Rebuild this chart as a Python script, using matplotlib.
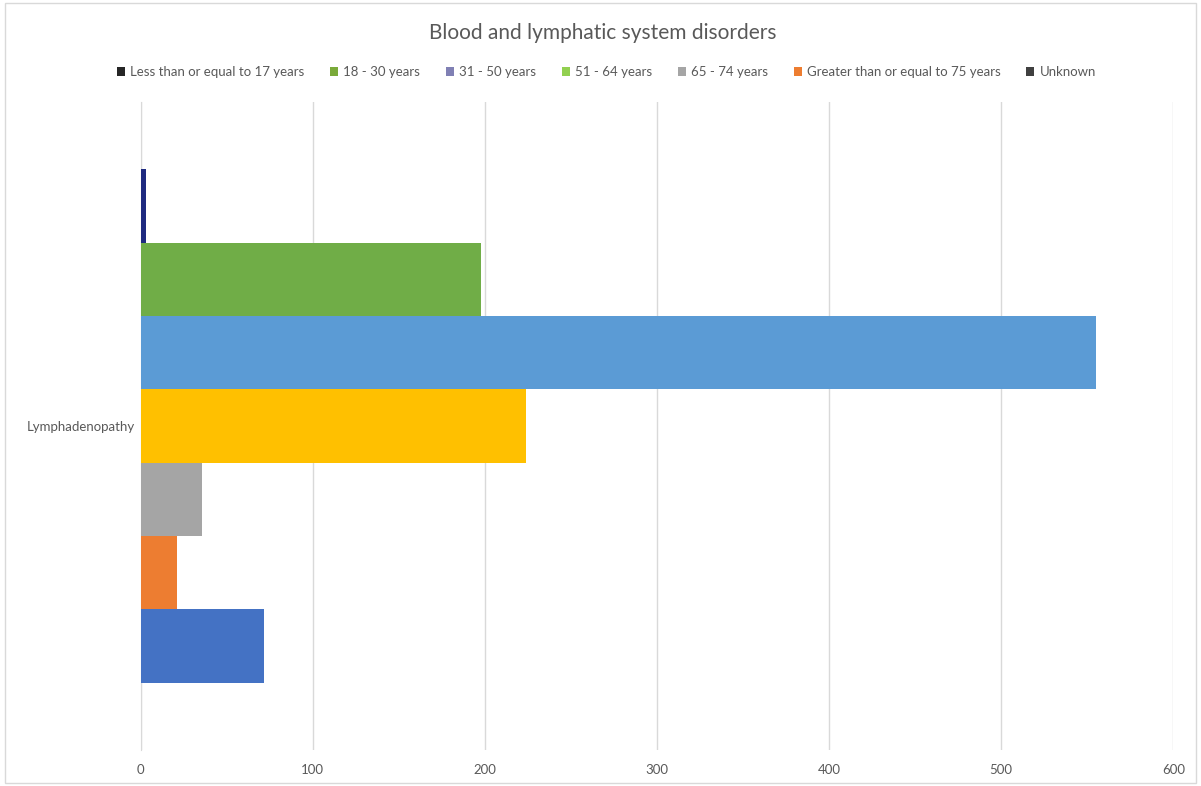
import matplotlib.pyplot as plt
from matplotlib.patches import Patch, Rectangle

# data
category = 'Lymphadenopathy'
age_groups = ['Less than or equal to 17 years', '18 - 30 years', '31 - 50 years',
              '51 - 64 years', '65 - 74 years', 'Greater than or equal to 75 years', 'Unknown']
counts = [3, 198, 555, 224, 36, 21, 72]
x_ticks = [0, 100, 200, 300, 400, 500, 600]

bar_colors = ['#1F2A80', '#70AD47', '#5B9BD5', '#FFC000', '#A5A5A5', '#ED7D31', '#4472C4']
legend_colors = ['#262626', '#7AAA3A', '#8080B4', '#92D050', '#A5A5A5', '#ED7D31', '#404040']

plt.rcParams['font.family'] = ['Lato', 'DejaVu Sans']

fig = plt.figure(figsize=(12.01, 7.86), dpi=100, facecolor='white')
ax = fig.add_axes([0.117, 0.046, 0.860, 0.824])

# one bar per age group, stacked top to bottom inside the single category
n = len(age_groups)
for i, (label, val, col) in enumerate(zip(age_groups, counts, bar_colors)):
    ax.barh((n - 1) / 2 - i, val, height=1.0, color=col, label=label, zorder=3)

ax.set_xlim(0, 600)
ax.set_ylim(-4.415, 4.415)
ax.set_xticks(x_ticks)
ax.set_yticks([0])
ax.set_yticklabels([category])
ax.tick_params(axis='both', length=0, colors='#595959', labelsize=9.5)
ax.tick_params(axis='x', pad=10)
ax.tick_params(axis='y', pad=4)

ax.grid(axis='x', color='#D9D9D9', linewidth=1, zorder=0)
for s in ['top', 'right', 'bottom']:
    ax.spines[s].set_visible(False)
ax.spines['left'].set_color('#D9D9D9')

handles = [Patch(facecolor=c, edgecolor='none') for c in legend_colors]
fig.legend(handles, age_groups, loc='center', bbox_to_anchor=(0.505, 0.908), ncol=7,
           frameon=False, fontsize=9.5, handlelength=0.6, handleheight=0.6,
           handletextpad=0.4, columnspacing=1.95, labelcolor='#595959')

fig.text(0.502, 0.958, 'Blood and lymphatic system disorders', ha='center', va='center',
         fontsize=15, color='#595959')

# chart border
fig.patches.append(Rectangle((0.004, 0.004), 0.992, 0.992, transform=fig.transFigure,
                             fill=False, edgecolor='#D9D9D9', linewidth=1))

fig.savefig('out.png', dpi=100, facecolor='white')
